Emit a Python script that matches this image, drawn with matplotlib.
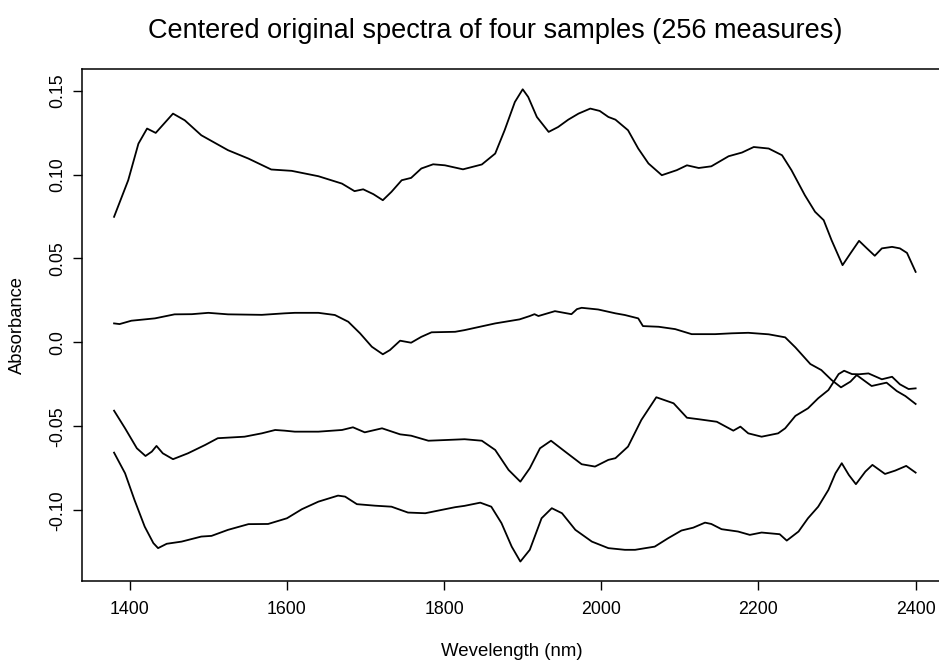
import matplotlib
matplotlib.use("Agg")
import matplotlib.pyplot as plt

plt.rcParams['font.family'] = ['Liberation Sans', 'DejaVu Sans']

# ---- data (wavelength nm, centered absorbance) ----
wl_a = [1380, 1398, 1411, 1422, 1433, 1455, 1470, 1491, 1525, 1551, 1580, 1606, 1640,
        1670, 1686, 1697, 1710, 1722, 1733, 1746, 1758, 1771, 1786, 1801, 1824, 1848,
        1865, 1877, 1890, 1900, 1907, 1918, 1933, 1945, 1958, 1971, 1986, 1998, 2009,
        2018, 2034, 2047, 2060, 2077, 2096, 2109, 2124, 2140, 2162, 2179, 2194, 2213,
        2230, 2242, 2259, 2272, 2283, 2293, 2307, 2317, 2328, 2338, 2348, 2357, 2370,
        2380, 2389, 2400]
abs_a = [0.0748, 0.0966, 0.1184, 0.1274, 0.1248, 0.1363, 0.1323, 0.1234, 0.1145, 0.1095,
         0.1030, 0.1022, 0.0990, 0.0946, 0.0901, 0.0912, 0.0883, 0.0847, 0.0897, 0.0966,
         0.0980, 0.1036, 0.1061, 0.1055, 0.1031, 0.1060, 0.1125, 0.1264, 0.1432, 0.1508,
         0.1462, 0.1343, 0.1254, 0.1283, 0.1327, 0.1363, 0.1393, 0.1379, 0.1343, 0.1327,
         0.1264, 0.1155, 0.1066, 0.0996, 0.1026, 0.1055, 0.1039, 0.1049, 0.1109, 0.1131,
         0.1164, 0.1155, 0.1115, 0.1026, 0.0877, 0.0778, 0.0728, 0.0609, 0.0460, 0.0530,
         0.0605, 0.0560, 0.0516, 0.0560, 0.0569, 0.0560, 0.0533, 0.0420]

wl_b = [1380, 1387, 1402, 1432, 1457, 1479, 1500, 1525, 1568, 1597, 1610, 1640, 1661,
        1678, 1693, 1708, 1722, 1731, 1744, 1758, 1771, 1784, 1814, 1826, 1865, 1896,
        1909, 1915, 1920, 1941, 1962, 1969, 1975, 1996, 2018, 2030, 2047, 2053, 2073,
        2094, 2115, 2145, 2166, 2187, 2213, 2234, 2247, 2266, 2280, 2293, 2305, 2317,
        2325, 2344, 2363, 2376, 2387, 2400]
abs_b = [0.0113, 0.0109, 0.0129, 0.0143, 0.0167, 0.0168, 0.0176, 0.0167, 0.0164, 0.0173,
         0.0176, 0.0176, 0.0163, 0.0123, 0.0054, -0.0026, -0.0071, -0.0046, 0.0010, -0.0002,
         0.0033, 0.0060, 0.0063, 0.0073, 0.0113, 0.0137, 0.0157, 0.0168, 0.0157, 0.0186,
         0.0168, 0.0198, 0.0206, 0.0196, 0.0173, 0.0163, 0.0143, 0.0097, 0.0093, 0.0079,
         0.0049, 0.0049, 0.0054, 0.0057, 0.0048, 0.0030, -0.0030, -0.0129, -0.0165, -0.0224,
         -0.0268, -0.0234, -0.0195, -0.0260, -0.0240, -0.0290, -0.0320, -0.0367]

wl_c = [1380, 1394, 1409, 1420, 1428, 1434, 1442, 1455, 1474, 1496, 1512, 1546, 1568,
        1585, 1597, 1610, 1640, 1670, 1684, 1699, 1721, 1744, 1758, 1780, 1801, 1826,
        1848, 1865, 1882, 1897, 1909, 1922, 1936, 1954, 1975, 1992, 2009, 2018, 2034,
        2051, 2070, 2092, 2109, 2124, 2147, 2168, 2177, 2187, 2204, 2225, 2234, 2247,
        2263, 2276, 2289, 2302, 2309, 2319, 2328, 2340, 2357, 2370, 2380, 2391, 2400]
abs_c = [-0.0407, -0.0512, -0.0631, -0.0677, -0.0651, -0.0617, -0.0661, -0.0696, -0.0661,
         -0.0611, -0.0571, -0.0562, -0.0542, -0.0522, -0.0526, -0.0532, -0.0532, -0.0522,
         -0.0506, -0.0536, -0.0512, -0.0548, -0.0556, -0.0586, -0.0582, -0.0577, -0.0586,
         -0.0641, -0.0760, -0.0830, -0.0750, -0.0631, -0.0586, -0.0651, -0.0726, -0.0740,
         -0.0700, -0.0690, -0.0621, -0.0462, -0.0327, -0.0363, -0.0449, -0.0458, -0.0473,
         -0.0526, -0.0502, -0.0542, -0.0562, -0.0542, -0.0512, -0.0438, -0.0393, -0.0333,
         -0.0284, -0.0189, -0.0169, -0.0189, -0.0190, -0.0185, -0.0220, -0.0205, -0.0250,
         -0.0278, -0.0274]

wl_d = [1380, 1394, 1406, 1419, 1430, 1436, 1447, 1466, 1491, 1504, 1525, 1551, 1576,
        1600, 1619, 1640, 1665, 1674, 1689, 1712, 1733, 1754, 1776, 1797, 1814, 1826,
        1846, 1860, 1873, 1886, 1897, 1909, 1924, 1937, 1950, 1967, 1988, 2009, 2030,
        2043, 2068, 2085, 2102, 2117, 2132, 2140, 2153, 2174, 2189, 2204, 2227, 2236,
        2251, 2263, 2276, 2289, 2298, 2306, 2315, 2324, 2336, 2345, 2361, 2374, 2388, 2400]
abs_d = [-0.0657, -0.0780, -0.0939, -0.1098, -0.1196, -0.1226, -0.1200, -0.1187, -0.1157,
         -0.1153, -0.1117, -0.1083, -0.1082, -0.1048, -0.0994, -0.0949, -0.0913, -0.0919,
         -0.0964, -0.0973, -0.0979, -0.1014, -0.1018, -0.0998, -0.0982, -0.0974, -0.0955,
         -0.0979, -0.1077, -0.1217, -0.1306, -0.1236, -0.1048, -0.0988, -0.1018, -0.1117,
         -0.1187, -0.1226, -0.1236, -0.1236, -0.1217, -0.1167, -0.1121, -0.1104, -0.1074,
         -0.1082, -0.1113, -0.1127, -0.1147, -0.1133, -0.1143, -0.1181, -0.1127, -0.1048,
         -0.0979, -0.0879, -0.0780, -0.0720, -0.0790, -0.0845, -0.0770, -0.0730, -0.0784,
         -0.0764, -0.0736, -0.0776]

x_ticks = [1400, 1600, 1800, 2000, 2200, 2400]
x_tick_labels = ["1400", "1600", "1800", "2000", "2200", "2400"]
y_ticks = [-0.10, -0.05, 0.0, 0.05, 0.10, 0.15]
y_tick_labels = ["-0.10", "-0.05", "0.0", "0.05", "0.10", "0.15"]

title = "Centered original spectra of four samples (256 measures)"
xlabel = "Wevelength (nm)"
ylabel = "Absorbance"

# ---- figure ----
W, H = 939, 661
fig = plt.figure(figsize=(W / 100, H / 100), dpi=100)
left_px, right_px, top_px, bot_px = 82, 947.7, 69.3, 580.7
ax = fig.add_axes([left_px / W, 1 - bot_px / H, (right_px - left_px) / W, (bot_px - top_px) / H])

for wl, ab in [(wl_a, abs_a), (wl_b, abs_b), (wl_c, abs_c), (wl_d, abs_d)]:
    ax.plot(wl, ab, color="black", lw=1.3, solid_joinstyle="round")

ax.set_xlim(1339.2, 2440.8)
ax.set_ylim(-0.1420, 0.1627)

ax.set_xticks(x_ticks)
ax.set_xticklabels(x_tick_labels, fontsize=12.8)
ax.set_yticks(y_ticks)
ax.set_yticklabels(y_tick_labels, fontsize=12.8, rotation=90, va="center")
ax.tick_params(axis="both", direction="out", length=6.3, width=1.0, color="black")
ax.tick_params(axis="x", pad=8.5)
ax.tick_params(axis="y", pad=5)
for s in ax.spines.values():
    s.set_linewidth(1.1)
    s.set_color("black")

fig.text(495 / W, 1 - 31 / H, title, ha="center", va="center", fontsize=19.5)
fig.text(512 / W, 1 - 651 / H, xlabel, ha="center", va="center", fontsize=13.4)
fig.text(17 / W, 1 - 0.5 * (top_px + bot_px) / H, ylabel, ha="center", va="center", rotation=90, fontsize=13.2)

fig.savefig("out.png", dpi=100)
